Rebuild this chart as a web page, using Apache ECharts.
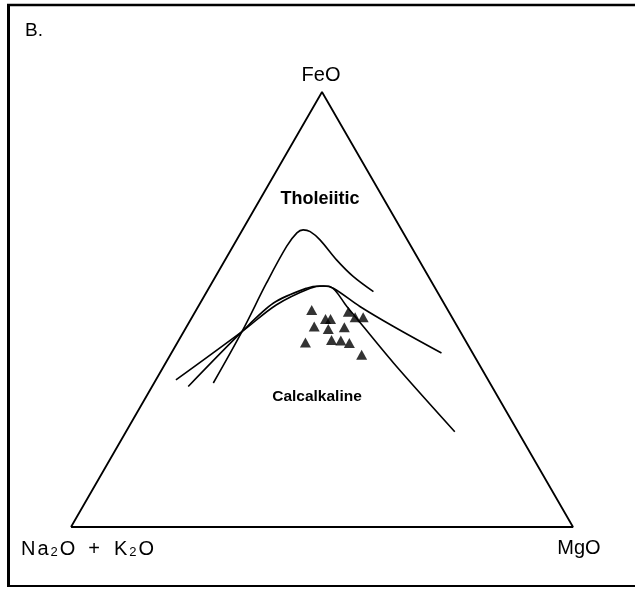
<!DOCTYPE html>
<html><head><meta charset="utf-8">
<script src="https://cdn.jsdelivr.net/npm/echarts@6/dist/echarts.min.js"></script>
<style>html,body{margin:0;padding:0;background:#fff}#c{width:635px;height:589px}</style>
</head><body><div id="c"></div>
<script>
// Ternary data as [Na2O+K2O, FeO, MgO] percentages
const vertexLabels = ['Na2O + K2O', 'FeO', 'MgO'];
const triangleEdges = [[100, 0, 0], [0, 100, 0], [0, 0, 100], [100, 0, 0]];
const sampleAlk = [27.1, 25.4, 24.4, 20.0, 19.3, 17.7, 28.5, 26.0, 22.6, 32.1, 26.6, 24.8, 23.4, 22.3];
const sampleFeO = [49.9, 47.8, 47.8, 49.5, 48.2, 48.2, 46.1, 45.5, 45.9, 42.4, 43.0, 42.9, 42.3, 39.6];
const sampleMgO = [23.0, 26.8, 27.8, 30.5, 32.5, 34.1, 25.4, 28.5, 31.5, 25.5, 30.4, 32.3, 34.3, 38.1];
const tholeiiticCurve = [[55.1, 33.1, 11.8], [43.5, 44.9, 11.6], [33.0, 56.1, 10.9], [24.8, 64.5, 10.7], [21.2, 67.6, 11.2], [19.6, 68.3, 12.1], [18.4, 67.9, 13.7], [17.4, 66.0, 16.6], [16.4, 61.4, 22.2], [15.0, 57.6, 27.4], [12.7, 54.1, 33.2]];
const boundaryCurveB = [[62.2, 33.8, 4.0], [43.5, 44.9, 11.6], [33.5, 51.1, 15.4], [24.9, 54.9, 20.2], [22.0, 55.4, 22.6], [20.3, 54.9, 24.8], [17.1, 50.7, 32.2], [12.7, 46.1, 41.2], [6.2, 40.0, 53.8]];
const boundaryCurveC = [[60.5, 32.3, 7.2], [43.5, 44.9, 11.6], [33.9, 51.5, 14.6], [25.6, 54.9, 19.5], [22.7, 55.4, 21.9], [20.8, 55.3, 23.9], [19.7, 50.7, 29.6], [16.9, 37.7, 45.4], [12.6, 21.9, 65.5]];

const H = Math.sqrt(3) / 2 * 100;
function toXY(a, f, m) {
  const s = a + f + m;
  f = f / s * 100; m = m / s * 100;
  return [m + f / 2, f * Math.sqrt(3) / 2];
}
const samples = sampleAlk.map((a, i) => toXY(a, sampleFeO[i], sampleMgO[i]));
const conv = arr => arr.map(p => toXY(p[0], p[1], p[2]));

const chart = echarts.init(document.getElementById('c'), null, {renderer: 'canvas'});
const lineStyle = {color: '#000', width: 1.6};
const font = sz => sz + 'px "Liberation Sans", Arial, sans-serif';
chart.setOption({
  animation: false,
  backgroundColor: '#fff',
  grid: {left: 71, top: 92, width: 502, height: 435},
  xAxis: {type: 'value', min: 0, max: 100, show: false},
  yAxis: {type: 'value', min: 0, max: H, show: false},
  series: [
    {type: 'line', data: conv(triangleEdges), symbol: 'none', lineStyle: {color: '#000', width: 1.8}, clip: false},
    {type: 'line', data: conv(tholeiiticCurve), symbol: 'none', smooth: 0.35, lineStyle: lineStyle, clip: false},
    {type: 'line', data: conv(boundaryCurveB), symbol: 'none', smooth: 0.35, lineStyle: lineStyle, clip: false},
    {type: 'line', data: conv(boundaryCurveC), symbol: 'none', smooth: 0.3, lineStyle: lineStyle, clip: false},
    {type: 'scatter', data: samples, symbol: 'triangle', symbolSize: [11, 10], itemStyle: {color: '#000'}, clip: false}
  ],
  graphic: [
    {type: 'line', shape: {x1: 8.5, y1: 4, x2: 8.5, y2: 587}, style: {stroke: '#000', lineWidth: 3}},
    {type: 'line', shape: {x1: 7, y1: 5, x2: 635, y2: 5}, style: {stroke: '#000', lineWidth: 2.5}},
    {type: 'line', shape: {x1: 7, y1: 586, x2: 635, y2: 586}, style: {stroke: '#000', lineWidth: 2}},
    {type: 'text', left: 25, top: 21, style: {text: 'B.', font: font(19), fill: '#000'}},
    {type: 'text', x: 321, y: 75, style: {text: vertexLabels[1], font: font(20), fill: '#000', textAlign: 'center', textVerticalAlign: 'middle'}},
    {type: 'text', x: 579, y: 548, style: {text: vertexLabels[2], font: font(20), fill: '#000', textAlign: 'center', textVerticalAlign: 'middle'}},
    {type: 'text', x: 20, y: 548, style: {
      text: '{n|N}{n|a}{s|2}{n|O}{p|+}{n|K}{s|2}{n|O}',
      textVerticalAlign: 'middle',
      rich: {
        n: {font: font(20), fill: '#000', verticalAlign: 'bottom', lineHeight: 22, padding: [0, 1, 0, 1]},
        s: {font: font(13), fill: '#000', verticalAlign: 'bottom', lineHeight: 13, padding: [0, 1, 0, 1]},
        p: {font: font(20), fill: '#000', verticalAlign: 'bottom', lineHeight: 22, padding: [0, 13, 0, 12]}
      }
    }},
    {type: 'text', x: 320, y: 199, style: {text: 'Tholeiitic', font: 'bold ' + font(18), fill: '#000', textAlign: 'center', textVerticalAlign: 'middle'}},
    {type: 'text', x: 317, y: 397, style: {text: 'Calcalkaline', font: 'bold ' + font(15.5), fill: '#000', textAlign: 'center', textVerticalAlign: 'middle'}}
  ]
});
</script>
</body></html>
